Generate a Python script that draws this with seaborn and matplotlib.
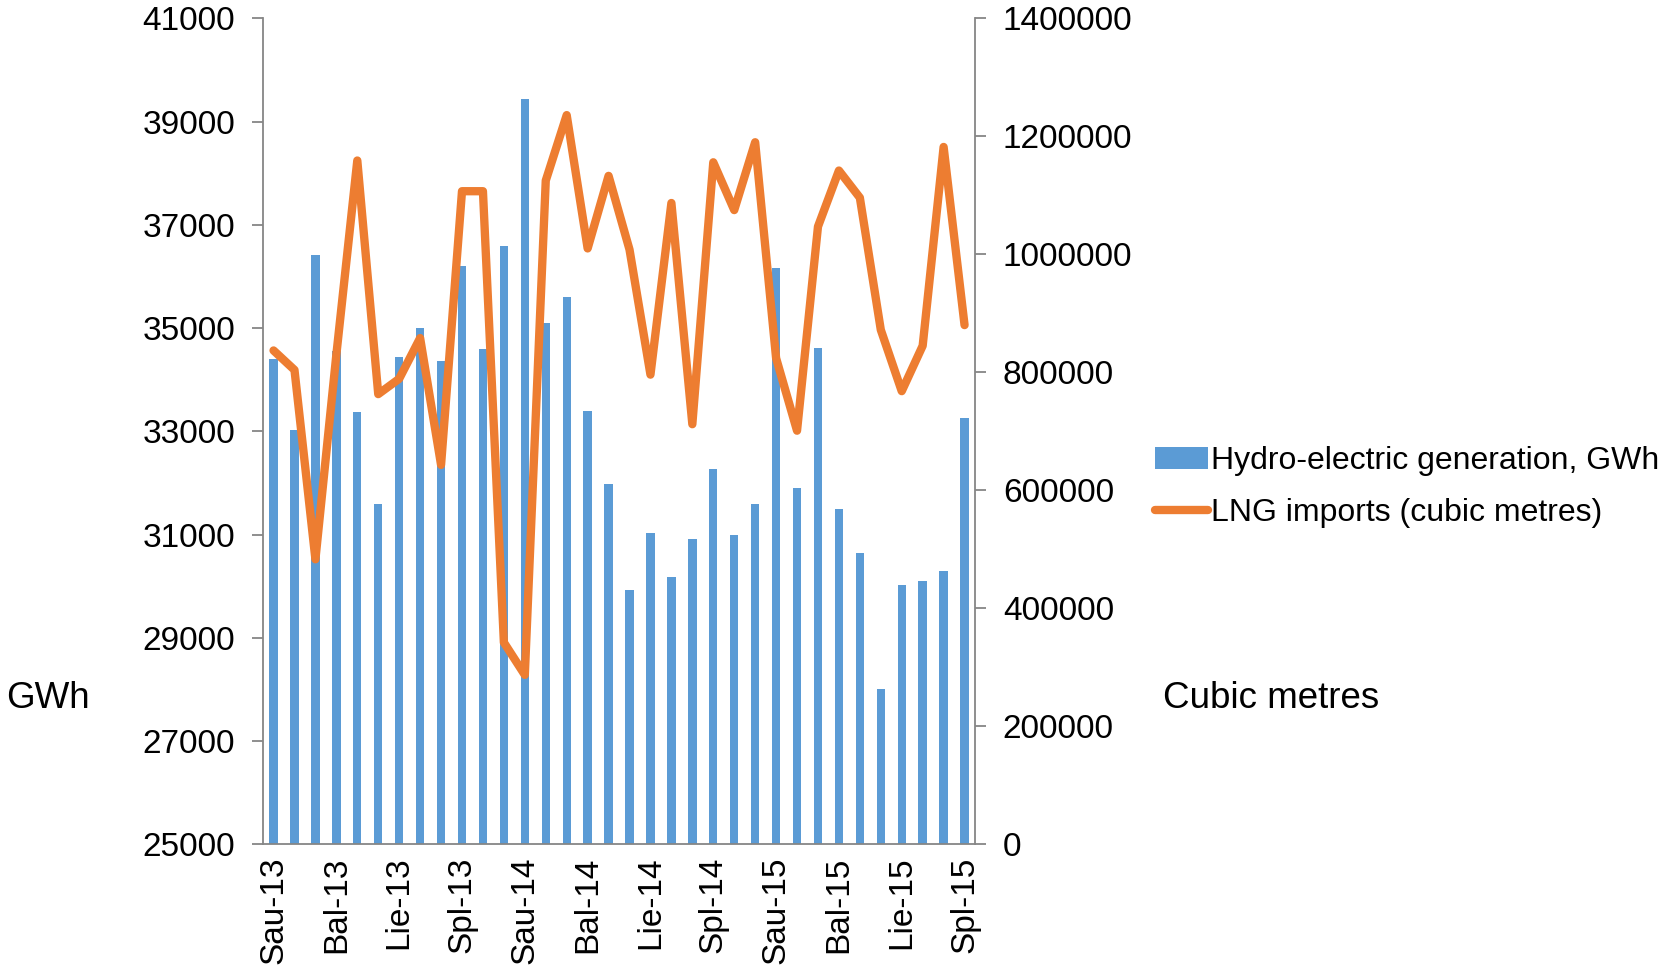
import matplotlib
matplotlib.use("Agg")
import matplotlib.pyplot as plt
import matplotlib.ticker as mticker
import seaborn as sns
import pandas as pd
import numpy as np
from matplotlib.patches import Patch
from matplotlib.lines import Line2D

# Monthly series, Jan 2013 - Oct 2015 (Lithuanian month abbreviations)
months = ["Sau-13", "Vas-13", "Kov-13", "Bal-13", "Geg-13", "Bir-13",
          "Lie-13", "Rgp-13", "Rgs-13", "Spl-13", "Lap-13", "Grd-13",
          "Sau-14", "Vas-14", "Kov-14", "Bal-14", "Geg-14", "Bir-14",
          "Lie-14", "Rgp-14", "Rgs-14", "Spl-14", "Lap-14", "Grd-14",
          "Sau-15", "Vas-15", "Kov-15", "Bal-15", "Geg-15", "Bir-15",
          "Lie-15", "Rgp-15", "Rgs-15", "Spl-15"]

hydro_gwh = [34400, 33020, 36420, 34550, 33370, 31600, 34440, 35010, 34360,
             36200, 34600, 36590, 39430, 35090, 35600, 33400, 31970, 29920,
             31030, 30180, 30910, 32270, 31000, 31590, 36170, 31900, 34610,
             31500, 30640, 28000, 30030, 30090, 30300, 33250]

lng_m3 = [837000, 804000, 483000, 830000, 1159000, 763000, 789000, 858000,
          643000, 1107000, 1107000, 342000, 287000, 1125000, 1236000, 1010000,
          1133000, 1008000, 796000, 1087000, 712000, 1156000, 1075000, 1190000,
          824000, 701000, 1047000, 1142000, 1096000, 872000, 768000, 845000,
          1182000, 880000]

tick_labels = ["Sau-13", "Bal-13", "Lie-13", "Spl-13", "Sau-14", "Bal-14",
               "Lie-14", "Spl-14", "Sau-15", "Bal-15", "Lie-15", "Spl-15"]

bar_label = "Hydro-electric generation, GWh"
line_label = "LNG imports (cubic metres)"

BLUE = "#5B9BD5"
ORANGE = "#ED7D31"
GREY = "#868686"

sns.set_style("white")
plt.rcParams["font.family"] = ["Liberation Sans", "DejaVu Sans"]
plt.rcParams["text.color"] = "black"
plt.rcParams["xtick.color"] = "black"
plt.rcParams["ytick.color"] = "black"
FS_TICK = 24
FS_LEG = 23
FS_TITLE = 26.5
LW = 6

df = pd.DataFrame({"idx": np.arange(len(months)), "month": months,
                   "hydro": hydro_gwh, "lng": lng_m3})

fig = plt.figure(figsize=(16.65, 9.67), dpi=100)
ax = fig.add_axes([0.158, 0.127, 0.4276, 0.854])

sns.barplot(data=df, x="idx", y="hydro", color=BLUE, width=0.4,
            saturation=1, ax=ax, edgecolor="none")
ax.set_ylim(25000, 41000)
ax.set_yticks(np.arange(25000, 41001, 2000))
ax.set_xlim(-0.5, len(months) - 0.5)

ax2 = ax.twinx()
sns.lineplot(data=df, x="idx", y="lng", color=ORANGE, linewidth=LW,
             ax=ax2, solid_joinstyle="round", solid_capstyle="round")
ax2.set_ylim(0, 1400000)
ax2.set_yticks(np.arange(0, 1400001, 200000))
ax2.yaxis.set_major_formatter(mticker.FuncFormatter(lambda v, p: f"{int(round(v))}"))
ax2.set_xlim(-0.5, len(months) - 0.5)

# x ticks: labels at every third month, tick marks at the category boundaries
label_pos = [months.index(m) for m in tick_labels]
ax.set_xticks(label_pos)
ax.set_xticklabels(tick_labels, rotation=90, fontsize=FS_TICK)
ax.set_xticks(np.arange(-0.5, len(months), 3), minor=True)
ax.tick_params(axis="x", which="major", length=0, pad=9)
ax.tick_params(axis="x", which="minor", length=8, width=1.3, color=GREY,
               direction="out")

ax.tick_params(axis="y", labelsize=FS_TICK, length=8, width=1.3, color=GREY,
               direction="out", pad=12)
ax2.tick_params(axis="y", labelsize=FS_TICK, length=8, width=1.3, color=GREY,
                direction="out", pad=12)
for a in (ax, ax2):
    a.set_xlabel("")
    a.set_ylabel("")
    for s in a.spines.values():
        s.set_visible(False)

ax.spines["left"].set_visible(True)
ax.spines["bottom"].set_visible(True)
ax2.spines["right"].set_visible(True)
for s in (ax.spines["left"], ax.spines["bottom"], ax2.spines["right"]):
    s.set_color(GREY)
    s.set_linewidth(1.3)

fig.text(48 / 1665, 1 - 699 / 967, "GWh", fontsize=FS_TITLE,
         ha="center", va="center")
fig.text(1271 / 1665, 1 - 699 / 967, "Cubic metres", fontsize=FS_TITLE,
         ha="center", va="center")

handles = [Patch(facecolor=BLUE, edgecolor="none"),
           Line2D([0], [0], color=ORANGE, linewidth=LW, solid_capstyle="round")]
fig.legend(handles, [bar_label, line_label], loc="center left",
           bbox_to_anchor=(1155 / 1665, 1 - 487 / 967), frameon=False,
           fontsize=FS_LEG, handlelength=1.65, handletextpad=0.1,
           labelspacing=0.68, borderaxespad=0, borderpad=0)

fig.savefig("out.png", dpi=100)
